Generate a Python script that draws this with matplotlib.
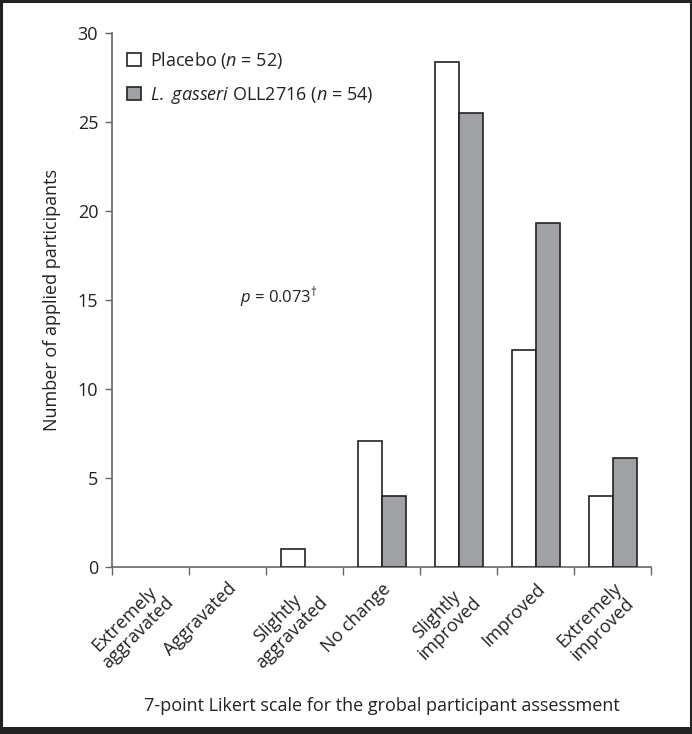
import matplotlib
matplotlib.use("Agg")
import matplotlib.pyplot as plt
from matplotlib.patches import Patch, Rectangle
import numpy as np

plt.rcParams['font.family'] = ['Open Sans', 'DejaVu Sans']
plt.rcParams['mathtext.fontset'] = 'custom'
plt.rcParams['mathtext.rm'] = 'Open Sans'
plt.rcParams['mathtext.it'] = 'Open Sans:italic'

categories = ["Extremely\naggravated", "Aggravated", "Slightly\naggravated", "No change",
              "Slightly\nimproved", "Improved", "Extremely\nimproved"]
placebo = [0, 0, 1, 7.1, 28.4, 12.2, 4.0]
gasseri = [0, 0, 0, 4.0, 25.5, 19.3, 6.1]
yticks = [0, 5, 10, 15, 20, 25, 30]

fig = plt.figure(figsize=(6.92, 7.34), dpi=100)
ax = fig.add_axes([0.162, 0.2275, 0.779, 0.7275])

x = np.arange(len(categories))
w = 0.31
edge = '#222222'
grey = '#a0a1a4'
fs = 13
# no outline for empty categories
lw_p = [1.2 if v > 0 else 0 for v in placebo]
lw_g = [1.2 if v > 0 else 0 for v in gasseri]
ax.bar(x - w / 2, placebo, w, color='white', edgecolor=edge, linewidth=lw_p, zorder=3)
ax.bar(x + w / 2, gasseri, w, color=grey, edgecolor=edge, linewidth=lw_g, zorder=3)

ax.set_xlim(-0.5, len(categories) - 0.5)
ax.set_ylim(0, 30)
ax.set_yticks(yticks)
ax.set_xticks(x)
ax.set_xticklabels(categories, rotation=45, ha='right', va='top', rotation_mode='anchor',
                   multialignment='center', fontsize=fs, color='#222222',
                   linespacing=1.1)
ax.set_xticks(np.arange(-0.5, len(categories)), minor=True)
ax.tick_params(axis='x', which='major', length=0, pad=9)
ax.tick_params(axis='x', which='minor', length=6, width=1, color='#666666', direction='out')
ax.tick_params(axis='y', length=5, width=1, color='#666666', labelsize=fs,
               labelcolor='#222222', pad=5)

for s in ['top', 'right']:
    ax.spines[s].set_visible(False)
for s in ['left', 'bottom']:
    ax.spines[s].set_color('#666666')
    ax.spines[s].set_linewidth(1.2)

ax.set_ylabel("Number of applied participants", fontsize=fs, color='#222222', labelpad=12)
ax.set_xlabel("7-point Likert scale for the grobal participant assessment", fontsize=fs,
              color='#222222', labelpad=18)

handles = [Patch(facecolor='white', edgecolor=edge, linewidth=1.2),
           Patch(facecolor=grey, edgecolor=edge, linewidth=1.2)]
labels = [r"Placebo ($n$ = 52)", r"$\mathit{L.\ gasseri}$ OLL2716 ($n$ = 54)"]
leg = ax.legend(handles, labels, loc='upper left', bbox_to_anchor=(0.028, 0.968),
                frameon=False, fontsize=fs, handlelength=0.75, handleheight=0.75,
                handletextpad=0.5, labelspacing=0.75, borderpad=0, borderaxespad=0)
for t in leg.get_texts():
    t.set_color('#222222')

ax.text(0.31, 0.505, r"$p$ = 0.073$^{\dagger}$", transform=ax.transAxes, ha='center',
        va='center', fontsize=12, color='#222222')

# outer frame
fig.patches.append(Rectangle((0.0015, 0.005), 0.997, 0.993, transform=fig.transFigure,
                             fill=False, edgecolor='#222222', linewidth=2.2))
fig.patches.append(Rectangle((0, 0), 1, 0.009, transform=fig.transFigure,
                             facecolor='#222222', edgecolor='none'))

fig.savefig("out.png", dpi=100)
